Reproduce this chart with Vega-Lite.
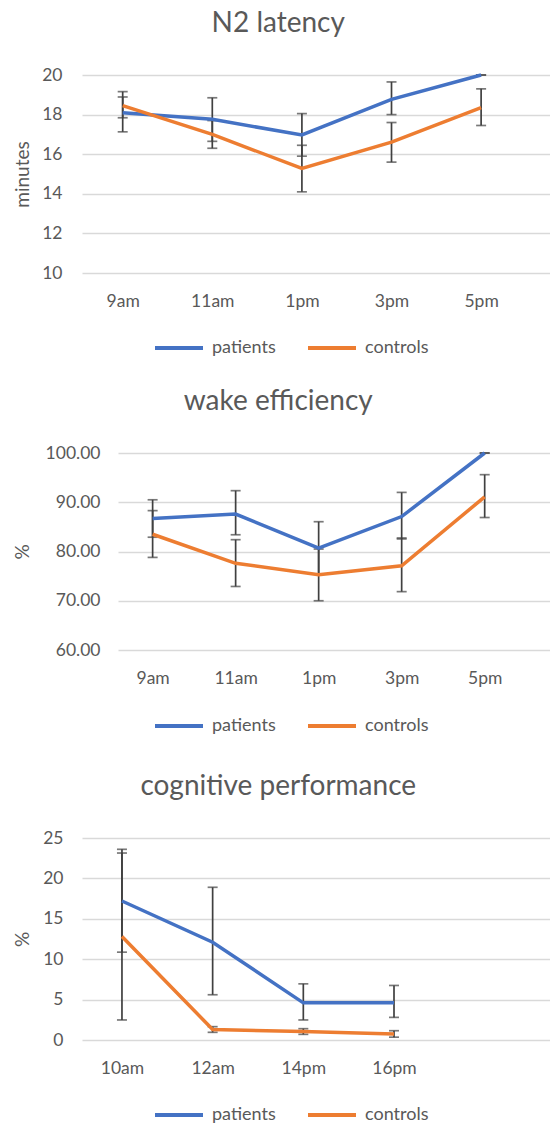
{
  "$schema": "https://vega.github.io/schema/vega-lite/v6.json",
  "padding": {"left": 13, "top": 10, "right": 0, "bottom": 0},
  "background": "white",
  "columns": 1,
  "spacing": 31,
  "config": {
    "font": "Lato",
    "view": {"stroke": null},
    "title": {"font": "Lato", "fontSize": 28, "fontWeight": "normal", "color": "#595959", "frame": "bounds", "anchor": "middle", "baseline": "alphabetic", "offset": 28, "dx": -4},
    "axis": {"labelFont": "Lato", "labelFontSize": 17.5, "labelColor": "#595959", "titleFont": "Lato", "titleFontSize": 19, "titleFontWeight": "normal", "titleColor": "#595959", "ticks": false, "tickSize": 0, "domain": false, "labelOverlap": false},
    "axisX": {"grid": false, "labelPadding": 19, "labelAngle": 0, "title": null},
    "axisY": {"grid": true, "gridColor": "#d9d9d9", "gridWidth": 1.5, "titlePadding": 5, "labelPadding": 20, "labelOverlap": false, "tickCount": 10},
    "legend": {"orient": "none", "direction": "horizontal", "title": null, "symbolType": "stroke", "symbolSize": 2304, "symbolStrokeWidth": 4, "labelFont": "Lato", "labelFontSize": 18, "labelColor": "#595959", "labelOffset": 7, "columnPadding": 24}
  },
  "datasets": {
    "n2": [
      {"time": "9am", "group": "patients", "value": 18.09, "low": 17.13, "high": 18.89},
      {"time": "11am", "group": "patients", "value": 17.76, "low": 16.65, "high": 18.85},
      {"time": "1pm", "group": "patients", "value": 16.97, "low": 15.9, "high": 18.05},
      {"time": "3pm", "group": "patients", "value": 18.77, "low": 18.0, "high": 19.65},
      {"time": "5pm", "group": "patients", "value": 20.0, "low": 20.0, "high": 20.0},
      {"time": "9am", "group": "controls", "value": 18.45, "low": 17.84, "high": 19.16},
      {"time": "11am", "group": "controls", "value": 17.0, "low": 16.3, "high": 17.7},
      {"time": "1pm", "group": "controls", "value": 15.28, "low": 14.1, "high": 16.45},
      {"time": "3pm", "group": "controls", "value": 16.61, "low": 15.6, "high": 17.6},
      {"time": "5pm", "group": "controls", "value": 18.35, "low": 17.45, "high": 19.3}
    ],
    "wake": [
      {"time": "9am", "group": "patients", "value": 86.7, "low": 82.9, "high": 90.5},
      {"time": "11am", "group": "patients", "value": 87.6, "low": 83.4, "high": 92.35},
      {"time": "1pm", "group": "patients", "value": 80.7, "low": 75.4, "high": 86.05},
      {"time": "3pm", "group": "patients", "value": 87.1, "low": 82.55, "high": 92.0},
      {"time": "5pm", "group": "patients", "value": 100.0, "low": 100.0, "high": 100.0},
      {"time": "9am", "group": "controls", "value": 83.5, "low": 78.8, "high": 88.3},
      {"time": "11am", "group": "controls", "value": 77.6, "low": 72.9, "high": 82.4},
      {"time": "1pm", "group": "controls", "value": 75.3, "low": 70.0, "high": 80.5},
      {"time": "3pm", "group": "controls", "value": 77.1, "low": 71.85, "high": 82.75},
      {"time": "5pm", "group": "controls", "value": 91.1, "low": 86.9, "high": 95.6}
    ],
    "cog": [
      {"time": "10am", "group": "patients", "value": 17.2, "low": 10.87, "high": 23.6},
      {"time": "12am", "group": "patients", "value": 12.1, "low": 5.6, "high": 18.9},
      {"time": "14pm", "group": "patients", "value": 4.6, "low": 2.48, "high": 6.95},
      {"time": "16pm", "group": "patients", "value": 4.6, "low": 2.8, "high": 6.75},
      {"time": "10am", "group": "controls", "value": 12.8, "low": 2.48, "high": 23.14},
      {"time": "12am", "group": "controls", "value": 1.3, "low": 0.95, "high": 1.65},
      {"time": "14pm", "group": "controls", "value": 1.05, "low": 0.7, "high": 1.4},
      {"time": "16pm", "group": "controls", "value": 0.75, "low": 0.35, "high": 1.15}
    ]
  },
  "concat": [
    {
      "title": {"text": "N2 latency"},
      "width": 469,
      "height": 198,
      "data": {"name": "n2"},
      "encoding": {
        "x": {"field": "time", "type": "ordinal", "sort": ["9am", "11am", "1pm", "3pm", "5pm"], "scale": {"type": "point", "padding": 0.617, "align": 0.368}}
      },
      "layer": [
        {
          "mark": {"type": "rule", "color": "#404040", "strokeWidth": 1.7},
          "encoding": {
            "y": {"field": "low", "type": "quantitative", "title": "minutes", "scale": {"domain": [10, 20], "nice": false, "zero": false}, "axis": {"values": [10, 12, 14, 16, 18, 20], "tickCount": 10, "labelOverlap": false, "minExtent": 44.5, "maxExtent": 44.5}},
            "y2": {"field": "high"},
            "detail": {"field": "group"}
          }
        },
        {
          "mark": {"type": "tick", "color": "#404040", "size": 10, "thickness": 1.7},
          "encoding": {"y": {"field": "low", "type": "quantitative", "title": "minutes"}, "detail": {"field": "group"}}
        },
        {
          "mark": {"type": "tick", "color": "#404040", "size": 10, "thickness": 1.7},
          "encoding": {"y": {"field": "high", "type": "quantitative", "title": "minutes"}, "detail": {"field": "group"}}
        },
        {
          "mark": {"type": "line", "strokeWidth": 3.5},
          "encoding": {
            "y": {"field": "value", "type": "quantitative", "title": "minutes"},
            "color": {"field": "group", "type": "nominal", "scale": {"domain": ["patients", "controls"], "range": ["#4472C4", "#ED7D31"]}, "legend": {"legendX": 71, "legendY": 247}}
          }
        }
      ]
    },
    {
      "bounds": "flush",
      "spacing": 0,
      "resolve": {"scale": {"color": "independent"}},
      "hconcat": [
        {
          "width": 36,
          "height": 1,
          "data": {"values": []},
          "mark": {"type": "text", "text": ""}
        },
        {
          "title": {"text": "wake efficiency"},
          "width": 433,
          "height": 197,
          "data": {"name": "wake"},
          "encoding": {
            "x": {"field": "time", "type": "ordinal", "sort": ["9am", "11am", "1pm", "3pm", "5pm"], "scale": {"type": "point", "padding": 0.608, "align": 0.343}}
          },
          "layer": [
            {
              "mark": {"type": "rule", "color": "#404040", "strokeWidth": 1.7},
              "encoding": {
                "y": {"field": "low", "type": "quantitative", "title": "%", "scale": {"domain": [60, 100], "nice": false, "zero": false}, "axis": {"values": [60, 70, 80, 90, 100], "tickCount": 10, "format": ".2f", "labelOverlap": false, "minExtent": 80.5, "maxExtent": 80.5, "labelPadding": 18}},
                "y2": {"field": "high"},
                "detail": {"field": "group"}
              }
            },
            {
              "mark": {"type": "tick", "color": "#404040", "size": 10, "thickness": 1.7},
              "encoding": {"y": {"field": "low", "type": "quantitative", "title": "%"}, "detail": {"field": "group"}}
            },
            {
              "mark": {"type": "tick", "color": "#404040", "size": 10, "thickness": 1.7},
              "encoding": {"y": {"field": "high", "type": "quantitative", "title": "%"}, "detail": {"field": "group"}}
            },
            {
              "mark": {"type": "line", "strokeWidth": 3.5},
              "encoding": {
                "y": {"field": "value", "type": "quantitative", "title": "%"},
                "color": {"field": "group", "type": "nominal", "scale": {"domain": ["patients", "controls"], "range": ["#4472C4", "#ED7D31"]}, "legend": {"legendX": 28, "legendY": 240, "padding": 7}}
              }
            }
          ]
        }
      ]
    },
    {
      "title": {"text": "cognitive performance"},
      "width": 469,
      "height": 202,
      "data": {"name": "cog"},
      "encoding": {
        "x": {"field": "time", "type": "ordinal", "scale": {"type": "point", "domain": ["10am", "12am", "14pm", "16pm", ""], "padding": 0.586, "align": 0.376}}
      },
      "layer": [
        {
          "mark": {"type": "rule", "color": "#404040", "strokeWidth": 1.7},
          "encoding": {
            "y": {"field": "low", "type": "quantitative", "title": "%", "scale": {"domain": [0, 25], "nice": false}, "axis": {"values": [0, 5, 10, 15, 20, 25], "tickCount": 10, "labelOverlap": false, "minExtent": 44.5, "maxExtent": 44.5, "labelPadding": 19}},
            "y2": {"field": "high"},
            "detail": {"field": "group"}
          }
        },
        {
          "mark": {"type": "tick", "color": "#404040", "size": 10, "thickness": 1.7},
          "encoding": {"y": {"field": "low", "type": "quantitative", "title": "%"}, "detail": {"field": "group"}}
        },
        {
          "mark": {"type": "tick", "color": "#404040", "size": 10, "thickness": 1.7},
          "encoding": {"y": {"field": "high", "type": "quantitative", "title": "%"}, "detail": {"field": "group"}}
        },
        {
          "mark": {"type": "line", "strokeWidth": 3.5},
          "encoding": {
            "y": {"field": "value", "type": "quantitative", "title": "%"},
            "color": {"field": "group", "type": "nominal", "scale": {"domain": ["patients", "controls"], "range": ["#4472C4", "#ED7D31"]}, "legend": {"legendX": 71, "legendY": 251}}
          }
        }
      ]
    }
  ],
  "resolve": {"scale": {"color": "independent"}}
}
